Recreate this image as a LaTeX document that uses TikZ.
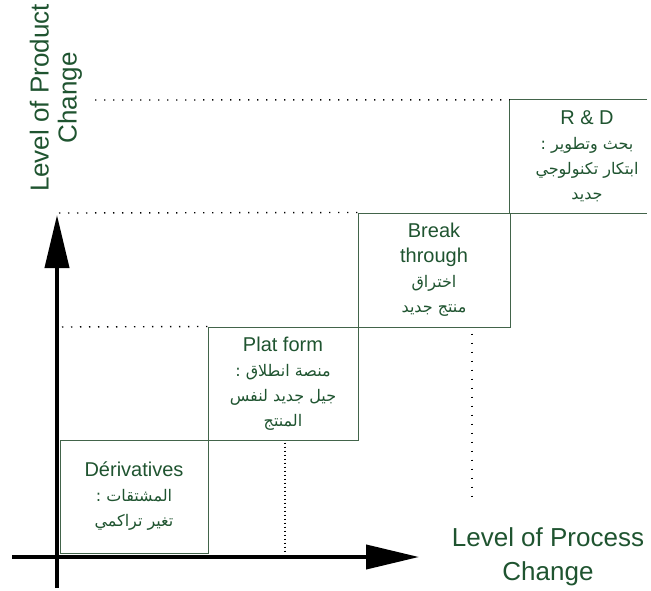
\documentclass[tikz,border=0pt]{standalone}
\usepackage{fontspec}
\setmainfont{Liberation Sans}
\newfontfamily\arabicfont[Script=Arabic]{DejaVu Sans}
\TeXXeTstate=1
\usetikzlibrary{arrows.meta}

\definecolor{labelgreen}{RGB}{31,84,48}
\definecolor{edgegreen}{RGB}{66,100,74}

% one line of right-to-left text
\newcommand\artext[1]{{\arabicfont\beginR #1\endR}}
% an English line inside a step
\newcommand\latinline[1]{{\fontsize{20}{25}\selectfont #1}}

\tikzset{
  stepbox/.style={draw=edgegreen, line width=1pt, text=labelgreen, align=center,
    inner sep=0pt, font=\fontsize{16}{25}\selectfont},
  steplabel/.style={text=labelgreen, align=center, inner sep=0pt,
    font=\fontsize{16}{25}\selectfont},
  edge/.style={draw=edgegreen, line width=1pt},
  guide/.style={black, line width=1.4pt, dash pattern=on 1.4pt off 7.6pt},
  guidefine/.style={black, line width=1.4pt, dash pattern=on 1.4pt off 2.6pt},
  axis/.style={black, line width=4pt, -{Triangle[length=53pt,width=24pt]}},
  axislabel/.style={text=labelgreen, align=center, inner sep=0pt}
}

\begin{document}
\begin{tikzpicture}[x=1pt,y=-1pt]
\useasboundingbox (0,0) rectangle (651,591);

% the four steps
\node[stepbox, minimum width=148pt, minimum height=113pt] (deriv) at (134,496.5)
  {\latinline{Dérivatives}\\ \artext{المشتقات :}\\ \artext{تغير تراكمي}};
\node[stepbox, minimum width=150pt, minimum height=113pt] (plat) at (283,383.5)
  {\latinline{Plat form}\\ \artext{منصة انطلاق :}\\ \artext{جيل جديد لنفس}\\ \artext{المنتج}};
\node[stepbox, minimum width=152pt, minimum height=114pt] (brk) at (434,270)
  {\latinline{Break}\\ \latinline{through}\\ \artext{اختراق}\\ \artext{منتج جديد}};
\node[steplabel, minimum width=154pt, minimum height=113pt] (rd) at (587,156.5)
  {\latinline{R \& D}\\ \artext{بحث وتطوير :}\\ \artext{ابتكار تكنولوجي}\\ \artext{جديد}};

% the last step runs off the right side
\coordinate (rightend) at (647,0);
\draw[edge] (rd.north west -| rightend) -- (rd.north west) -- (rd.south west) -- (rd.south west -| rightend);

% dotted guides
\coordinate (g1) at (95,100);
\coordinate (g2) at (59,213);
\coordinate (g3) at (62,327);
\coordinate (g4) at (285,554);
\coordinate (g5) at (472,502);
\draw[guide] (g1) -- (rd.north west);
\draw[guide] (g2) -- (brk.north west);
\draw[guide] (g3) -- (plat.north west);
\draw[guidefine] (g4 |- plat.south) ++(0,2) -- (g4);
\draw[guide] (g5 |- brk.south) ++(0,6) -- (g5);

% axes
\coordinate (xstart) at (12,557);
\coordinate (xend) at (419,557);
\coordinate (ystart) at (57,588);
\coordinate (yend) at (57,215);
\draw[axis] (xstart) -- (xend);
\draw[axis] (ystart) -- (yend);

% axis titles
\node[axislabel, rotate=90, font=\fontsize{26}{28}\selectfont] (ytitle) at (56,98)
  {Level of Product\\Change};
\node[axislabel, font=\fontsize{26}{34}\selectfont] (xtitle) at (548,557)
  {Level of Process\\Change};
\end{tikzpicture}
\end{document}
